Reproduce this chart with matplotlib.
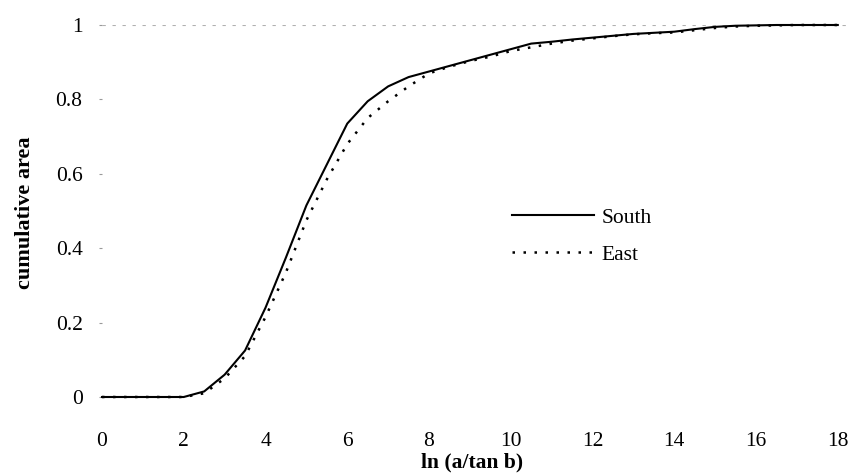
import numpy as np
import matplotlib.pyplot as plt

# ln(a/tan b) values and cumulative area fractions
x = np.arange(0, 18.5, 0.5)
south = [0, 0, 0, 0, 0, 0.015, 0.06, 0.125, 0.24, 0.375,
         0.515, 0.625, 0.735, 0.795, 0.835, 0.86, 0.875, 0.89, 0.905, 0.92,
         0.935, 0.95, 0.955, 0.961, 0.966, 0.971, 0.976, 0.979, 0.982, 0.989,
         0.995, 0.998, 0.999, 1.0, 1.0, 1.0, 1.0]
east = [0, 0, 0, 0, 0, 0.01, 0.05, 0.11, 0.215, 0.335,
        0.475, 0.585, 0.68, 0.75, 0.795, 0.835, 0.87, 0.888, 0.903, 0.915,
        0.93, 0.94, 0.95, 0.958, 0.964, 0.97, 0.975, 0.978, 0.98, 0.986,
        0.992, 0.996, 0.998, 0.999, 1.0, 1.0, 1.0]

xticks = np.arange(0, 20, 2)
yticks = [0, 0.2, 0.4, 0.6, 0.8, 1]
ytick_labels = ["0", "0.2", "0.4", "0.6", "0.8", "1"]

plt.rcParams['font.family'] = ['Liberation Serif', 'DejaVu Serif']

W, H = 848, 473
fig = plt.figure(figsize=(W / 100, H / 100), dpi=100)
ax = fig.add_axes([102 / W, (H - 397) / H, 746 / W, 372 / H])

ax.plot(x, south, color='black', lw=1.5, clip_on=False, label='South')
ax.plot(x, east, color='black', lw=1.8, linestyle=(0, (1, 3.4)),
        clip_on=False, label='East')

# faint line along the top
ax.axhline(1, color='#b0b0b0', lw=0.8, linestyle=(0, (3, 6)), zorder=0)

ax.set_xlim(0, 18.25)
ax.set_ylim(0, 1)
ax.set_xticks(xticks)
ax.set_xticklabels([str(v) for v in xticks])
ax.set_yticks(yticks)
ax.set_yticklabels(ytick_labels)
for s in ax.spines.values():
    s.set_visible(False)
ax.tick_params(axis='y', length=2, width=0.8, color='#999999', pad=12,
               labelsize=15.5)
ax.tick_params(axis='x', length=0, pad=25, labelsize=15.5)

fig.text(472 / W, (H - 462) / H, 'ln (a/tan b)', ha='center', va='center',
         fontsize=15.5, fontweight='bold')
fig.text(25 / W, (H - 213) / H, 'cumulative area', ha='center', va='center',
         rotation=90, fontsize=16, fontweight='bold')

ax.legend(loc='upper left', bbox_to_anchor=(0.55, 0.509), frameon=False,
          fontsize=15.5, handlelength=3.8, handletextpad=0.35,
          labelspacing=0.8, borderpad=0, borderaxespad=0)

fig.savefig('out.png', dpi=100)
